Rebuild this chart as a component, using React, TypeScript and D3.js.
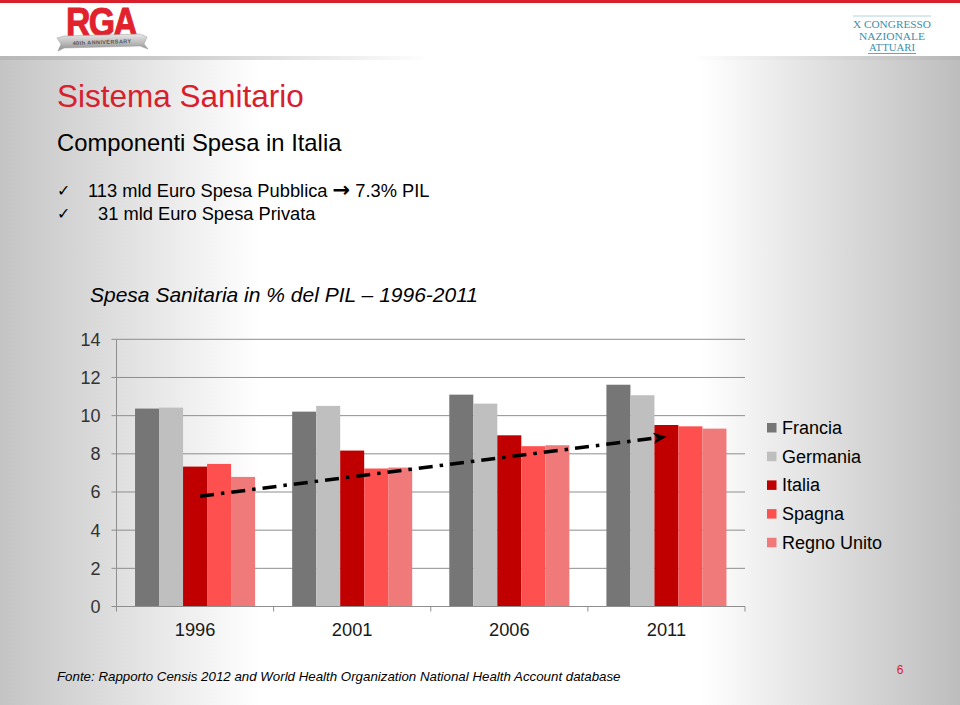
import React from "react";
import * as d3 from "d3";

const years = ["1996", "2001", "2006", "2011"];
const countries = ["Francia", "Germania", "Italia", "Spagna", "Regno Unito"];
const colors = ["#767676", "#bfbfbf", "#c00000", "#ff5050", "#f07a7a"];
const francia = [10.37, 10.21, 11.1, 11.62];
const germania = [10.42, 10.51, 10.63, 11.07];
const italia = [7.33, 8.17, 8.97, 9.51];
const spagna = [7.47, 7.23, 8.4, 9.44];
const regnoUnito = [6.79, 7.28, 8.45, 9.32];
const seriesValues = [francia, germania, italia, spagna, regnoUnito];
const yTicks = [0, 2, 4, 6, 8, 10, 12, 14];
const trendYears = ["1996", "2011"];
const trendValues = [5.78, 8.9];

const W = 960;
const H = 705;
const FONT = "'Liberation Sans', Arial, sans-serif";

export default function App() {
  const plotLeft = 116.5;
  const plotRight = 745;
  const y = d3.scaleLinear().domain([0, 14]).range([606.5, 339.3]);
  const x0 = d3
    .scaleBand<string>()
    .domain(years)
    .range([plotLeft, plotRight])
    .paddingInner(0.236)
    .paddingOuter(0.118);
  const x1 = d3
    .scaleBand<string>()
    .domain(countries)
    .range([0, x0.bandwidth()])
    .padding(0);
  const step = x0.step();
  const boundaries = d3.range(years.length + 1).map((i) => plotLeft + i * step);

  const trendPts: [number, number][] = trendYears.map((yr, i) => [
    (x0(yr) as number) + (x1("Italia") as number) + x1.bandwidth() / 2 + (i === 0 ? 5 : 0),
    y(trendValues[i]),
  ]);
  const line = d3.line();

  return (
    <svg
      width={W}
      height={H}
      style={{ position: "absolute", left: 0, top: 0, display: "block" }}
      fontFamily={FONT}
    >
      <defs>
        <linearGradient id="bg" x1="0" x2="1" y1="0" y2="0">
          <stop offset="0" stopColor="#c4c4c4" />
          <stop offset="0.27" stopColor="#ffffff" />
          <stop offset="0.73" stopColor="#ffffff" />
          <stop offset="1" stopColor="#bdbdbd" />
        </linearGradient>
        <linearGradient id="strip" x1="0" x2="1" y1="0" y2="0">
          <stop offset="0" stopColor="#b8b8b8" />
          <stop offset="0.15" stopColor="#c8c8c8" />
          <stop offset="0.45" stopColor="#ffffff" />
          <stop offset="0.72" stopColor="#ffffff" />
          <stop offset="1" stopColor="#b5b5b5" />
        </linearGradient>
        <linearGradient id="ribbon" x1="0" x2="0" y1="0" y2="1">
          <stop offset="0" stopColor="#e8e8e8" />
          <stop offset="0.5" stopColor="#bdbdbd" />
          <stop offset="1" stopColor="#8a8a8a" />
        </linearGradient>
        <marker
          id="arrow"
          viewBox="0 -6 14 12"
          refX={13}
          refY={0}
          markerWidth={14}
          markerHeight={12}
          markerUnits="userSpaceOnUse"
          orient="auto"
        >
          <path d="M0,-5.5 L13,0 L0,5.5 L3.5,0 Z" fill="#000" />
        </marker>
      </defs>

      {/* background */}
      <rect x={0} y={0} width={W} height={H} fill="url(#bg)" />
      <rect x={0} y={0} width={W} height={56} fill="#ffffff" />
      <rect x={0} y={0} width={W} height={3} fill="#d7202c" />
      <rect x={0} y={56} width={W} height={4} fill="url(#strip)" />

      {/* RGA logo */}
      <g>
        <text
          x={101}
          y={36}
          textAnchor="middle"
          fontFamily="'Liberation Sans Narrow', 'Liberation Sans', Arial, sans-serif"
          fontWeight="bold"
          fontSize={40}
          fill="#e1222d"
          stroke="#e1222d"
          strokeWidth={1}
          letterSpacing={-2}
          textLength={70}
          lengthAdjust="spacingAndGlyphs"
        >
          RGA
        </text>
        <path
          d="M57,38 L64,36 L140,34 L147,37 L144,44 L148,49 L140,46 L64,48 L58,51 L61,44 Z"
          fill="url(#ribbon)"
          stroke="#9a9a9a"
          strokeWidth={0.5}
        />
        <text
          x={102}
          y={44}
          textAnchor="middle"
          fontSize={5.5}
          fontWeight="bold"
          fill="#555"
          transform="rotate(-2 102 42)"
          letterSpacing={0.4}
        >
          40th ANNIVERSARY
        </text>
      </g>

      {/* Congress logo */}
      <g fontFamily="'Liberation Serif', 'DejaVu Serif', serif" fill="#3d8fae" textAnchor="middle">
        <line x1={853} x2={931} y1={16} y2={16} stroke="#9cc7d6" strokeWidth={0.8} />
        <text x={892} y={27.5} fontSize={11} textLength={78} lengthAdjust="spacingAndGlyphs">
          X CONGRESSO
        </text>
        <text x={892} y={39.5} fontSize={11} textLength={66} lengthAdjust="spacingAndGlyphs">
          NAZIONALE
        </text>
        <text x={892} y={51} fontSize={11} textLength={46} lengthAdjust="spacingAndGlyphs">
          ATTUARI
        </text>
        <line x1={868} x2={916} y1={53.5} y2={53.5} stroke="#3d8fae" strokeWidth={0.8} />
      </g>

      {/* titles */}
      <text x={57} y={107} fontSize={31.5} fill="#d7202c">
        Sistema Sanitario
      </text>
      <text x={57} y={151} fontSize={23.8} fill="#000">
        Componenti Spesa in Italia
      </text>
      <text x={57} y={196} fontSize={16} fill="#000">
        ✓
      </text>
      <text x={88} y={196.5} fontSize={18.3} fill="#000">
        113 mld Euro Spesa Pubblica{" "}
        <tspan fontFamily="'DejaVu Sans', sans-serif" fontWeight="bold" fontSize={21}>
          →
        </tspan>{" "}
        7.3% PIL
      </text>
      <text x={57} y={219} fontSize={16} fill="#000">
        ✓
      </text>
      <text x={98} y={219.5} fontSize={18.3} fill="#000">
        31 mld Euro Spesa Privata
      </text>

      {/* chart title */}
      <text x={90} y={302} fontSize={21} fontStyle="italic" fill="#000">
        Spesa Sanitaria in % del PIL – 1996-2011
      </text>

      {/* gridlines */}
      {yTicks.slice(1).map((t) => (
        <line key={t} x1={plotLeft} x2={plotRight} y1={y(t)} y2={y(t)} stroke="#8e8e8e" strokeWidth={1} />
      ))}
      {/* y axis */}
      <line x1={plotLeft} x2={plotLeft} y1={y(14)} y2={y(0)} stroke="#8e8e8e" strokeWidth={1} />
      {yTicks.map((t) => (
        <g key={t}>
          <line x1={plotLeft - 5} x2={plotLeft} y1={y(t)} y2={y(t)} stroke="#8e8e8e" />
          <text x={100.5} y={y(t)} dy="0.36em" textAnchor="end" fontSize={18} fill="#333">
            {t}
          </text>
        </g>
      ))}

      {/* bars */}
      {years.map((yr, i) => (
        <g key={yr} transform={`translate(${x0(yr)},0)`}>
          {countries.map((c, j) => (
            <rect
              key={c}
              x={x1(c)}
              y={y(seriesValues[j][i])}
              width={x1.bandwidth()}
              height={y(0) - y(seriesValues[j][i])}
              fill={colors[j]}
            />
          ))}
        </g>
      ))}

      {/* x axis */}
      <line x1={plotLeft} x2={plotRight} y1={y(0)} y2={y(0)} stroke="#8e8e8e" strokeWidth={1} />
      {boundaries.map((bx, i) => (
        <line key={i} x1={bx} x2={bx} y1={y(0)} y2={y(0) + 5} stroke="#8e8e8e" />
      ))}
      {years.map((yr) => (
        <text
          key={yr}
          x={(x0(yr) as number) + x0.bandwidth() / 2}
          y={636}
          textAnchor="middle"
          fontSize={18.3}
          fill="#1a1a1a"
        >
          {yr}
        </text>
      ))}

      {/* trend arrow */}
      <path
        d={line(trendPts) || ""}
        fill="none"
        stroke="#000"
        strokeWidth={3.5}
        strokeDasharray="14 7 3.5 7"
        markerEnd="url(#arrow)"
      />

      {/* legend */}
      {countries.map((c, j) => (
        <g key={c} transform={`translate(767, ${423 + j * 28.7})`}>
          <rect x={0} y={0} width={9.5} height={9.5} fill={colors[j]} />
          <text x={15} y={11} fontSize={18} fill="#000">
            {c}
          </text>
        </g>
      ))}

      {/* footer */}
      <text x={57} y={681} fontSize={13.3} fontStyle="italic" fill="#000">
        Fonte:  Rapporto Censis 2012 and World Health Organization National Health Account database
      </text>
      <text x={900} y={674} fontSize={12} textAnchor="middle" fill="#d7202c">
        6
      </text>
    </svg>
  );
}
